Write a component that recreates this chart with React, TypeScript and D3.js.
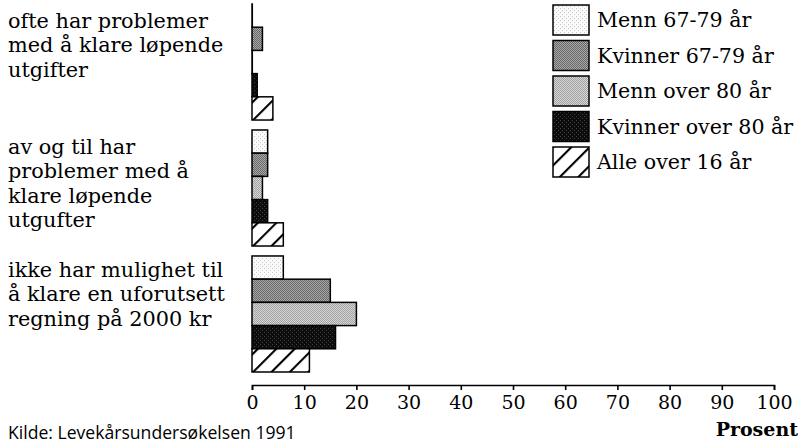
import React, { useEffect, useRef } from 'react';
import * as d3 from 'd3';

// groups (top to bottom) with their label lines
const groups = ['ofte', 'avogtil', 'ikke'];
const groupLabels = [
    ['ofte har problemer', 'med å klare løpende', 'utgifter'],
    ['av og til har', 'problemer med å', 'klare løpende', 'utgufter'],
    ['ikke har mulighet til', 'å klare en uforutsett', 'regning på 2000 kr'],
];

const seriesNames = ['Menn 67-79 år', 'Kvinner 67-79 år', 'Menn over 80 år', 'Kvinner over 80 år', 'Alle over 16 år'];

// percent per series, one entry per group
const menn6779 = [0, 3, 6];
const kvinner6779 = [2, 3, 15];
const mennOver80 = [0, 2, 20];
const kvinnerOver80 = [1, 3, 16];
const alleOver16 = [4, 6, 11];

const tickValues = [0, 10, 20, 30, 40, 50, 60, 70, 80, 90, 100];

const W = 799;
const H = 443;

const App: React.FC = () => {
    const ref = useRef<SVGSVGElement>(null);

    useEffect(() => {
        if (!ref.current) return;
        const svg = d3.select(ref.current);
        svg.selectAll('*').remove();

        const serif = '"DejaVu Serif", serif';
        const series = [menn6779, kvinner6779, mennOver80, kvinnerOver80, alleOver16];
        const patIds = ['p0', 'p1', 'p2', 'p3', 'p4'];

        // fill patterns (dotted greys and hatch)
        const defs = svg.append('defs');
        const dotPat = (id: string, bg: string, dot: string, size: number) => {
            const p = defs.append('pattern').attr('id', id)
                .attr('patternUnits', 'userSpaceOnUse')
                .attr('width', size).attr('height', size);
            p.append('rect').attr('width', size).attr('height', size).attr('fill', bg);
            p.append('rect').attr('x', 0).attr('y', 0).attr('width', 1).attr('height', 1).attr('fill', dot);
            p.append('rect').attr('x', size / 2).attr('y', size / 2).attr('width', 1).attr('height', 1).attr('fill', dot);
        };
        dotPat('p0', '#fbfbfb', '#c4c4c4', 4);
        dotPat('p1', '#a8a8a8', '#686868', 2);
        dotPat('p2', '#d8d8d8', '#a0a0a0', 2);
        dotPat('p3', '#0c0c0c', '#444', 4);
        const hatch = defs.append('pattern').attr('id', 'p4')
            .attr('patternUnits', 'userSpaceOnUse')
            .attr('width', 13).attr('height', 13)
            .attr('patternTransform', 'rotate(45)');
        hatch.append('rect').attr('width', 13).attr('height', 13).attr('fill', '#fff');
        hatch.append('line').attr('x1', 1).attr('y1', 0).attr('x2', 1).attr('y2', 13)
            .attr('stroke', '#000').attr('stroke-width', 2.2);

        const x = d3.scaleLinear().domain([0, 100]).range([252, 774]);
        const y0 = d3.scaleBand().domain(groups).range([4, 372]).paddingInner(0.079);
        const y1 = d3.scaleBand().domain(seriesNames).range([0, y0.bandwidth()]);

        // bars (zero values still show as a thin outline)
        groups.forEach((g, gi) => {
            const gg = svg.append('g').attr('transform', `translate(0,${y0(g)})`);
            gg.selectAll('rect')
                .data(seriesNames)
                .enter().append('rect')
                .attr('x', x(0))
                .attr('y', d => y1(d) || 0)
                .attr('width', (d, i) => Math.max(x(series[i][gi]) - x(0), 0.3))
                .attr('height', y1.bandwidth())
                .attr('fill', (d, i) => `url(#${patIds[i]})`)
                .attr('stroke', '#000')
                .attr('stroke-width', 1.5);

            // group labels
            const t = svg.append('text')
                .attr('x', 8)
                .attr('y', (y0(g) || 0) + (gi === 2 ? 21 : 24))
                .attr('font-family', serif)
                .attr('font-size', 20.8)
                .attr('fill', '#000');
            groupLabels[gi].forEach((line, li) => {
                t.append('tspan').attr('x', 8).attr('dy', li === 0 ? 0 : 24.3).text(line);
            });
        });

        // x axis
        const axis = svg.append('g')
            .attr('transform', 'translate(0,385)')
            .call(d3.axisBottom(x).tickValues(tickValues).tickSize(5).tickPadding(6).tickFormat(d3.format('d')));
        axis.select('.domain').attr('stroke-width', 1.6);
        axis.selectAll('.tick line').attr('stroke-width', 1.6);
        axis.selectAll('.tick text')
            .attr('font-family', serif)
            .attr('font-size', 19)
            .attr('fill', '#000');

        svg.append('text')
            .attr('x', 798).attr('y', 436)
            .attr('text-anchor', 'end')
            .attr('font-family', serif)
            .attr('font-weight', 'bold')
            .attr('font-size', 19)
            .text('Prosent');

        svg.append('text')
            .attr('x', 8).attr('y', 439)
            .attr('font-family', '"Open Sans", sans-serif')
            .attr('font-size', 17.6)
            .text('Kilde: Levekårsundersøkelsen 1991');

        // legend
        const leg = svg.append('g');
        seriesNames.forEach((name, i) => {
            const top = 5 + i * 35.5;
            leg.append('rect')
                .attr('x', 553).attr('y', top)
                .attr('width', 36).attr('height', 30)
                .attr('fill', `url(#${patIds[i]})`)
                .attr('stroke', '#000')
                .attr('stroke-width', 1.5);
            leg.append('text')
                .attr('x', 597).attr('y', top + 22)
                .attr('font-family', serif)
                .attr('font-size', 20.6)
                .text(name);
        });
    }, []);

    return (
        <svg ref={ref} width={W} height={H}
            style={{ position: 'absolute', left: 0, top: 0, background: '#fff' }} />
    );
};

export default App;
